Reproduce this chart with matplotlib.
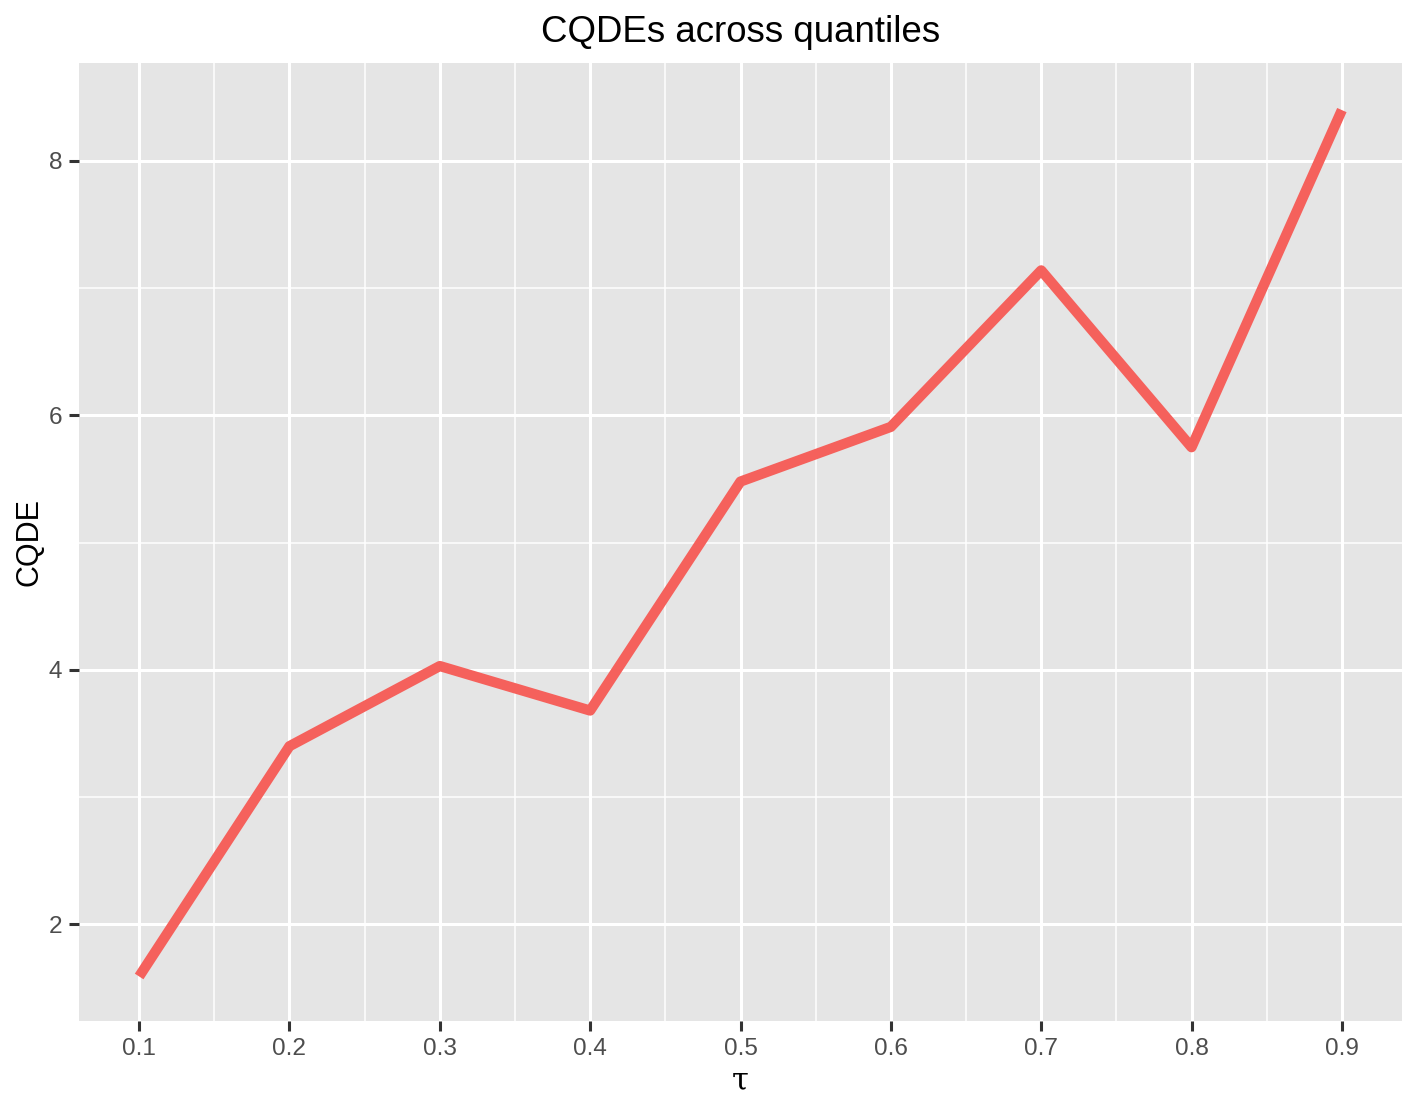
import matplotlib
matplotlib.use("Agg")
import matplotlib.pyplot as plt
from matplotlib.ticker import MultipleLocator

tau = [0.1, 0.2, 0.3, 0.4, 0.5, 0.6, 0.7, 0.8, 0.9]
cqde = [1.59, 3.40, 4.03, 3.68, 5.48, 5.91, 7.14, 5.75, 8.40]
x_ticks = [0.1, 0.2, 0.3, 0.4, 0.5, 0.6, 0.7, 0.8, 0.9]
y_ticks = [2, 4, 6, 8]

plt.rcParams["font.family"] = ["Liberation Sans", "DejaVu Sans"]

fig = plt.figure(figsize=(7.085, 5.51), dpi=200)
ax = fig.add_axes([79 / 1417, 1 - 1021 / 1102, (1402 - 79) / 1417, (1021 - 63) / 1102])
ax.set_facecolor("#E5E5E5")

ax.set_xlim(0.06, 0.94)
ax.set_ylim(1.24, 8.77)
ax.set_xticks(x_ticks)
ax.set_xticklabels([str(t) for t in x_ticks])
ax.set_yticks(y_ticks)
ax.xaxis.set_minor_locator(MultipleLocator(0.05))
ax.yaxis.set_minor_locator(MultipleLocator(1))

ax.grid(which="major", color="white", linewidth=1.1)
ax.grid(which="minor", color="white", linewidth=0.55)
ax.set_axisbelow(True)
for s in ax.spines.values():
    s.set_visible(False)
ax.tick_params(which="major", length=3.5, width=1.1, color="#333333",
               labelcolor="#4D4D4D", labelsize=8.8, pad=2.5)
ax.tick_params(which="minor", length=0)

ax.plot(tau, cqde, color="#F5615C", linewidth=3.7, solid_joinstyle="round",
        solid_capstyle="butt")

ax.set_xlabel("τ", fontsize=11, family=["DejaVu Serif"], labelpad=2)
ax.set_ylabel("CQDE", fontsize=11, labelpad=1.5)
fig.text((79 + 1402) / 2 / 1417, 1 - 32 / 1102, "CQDEs across quantiles",
         ha="center", va="center", fontsize=13.2)

fig.savefig("out.png", dpi=200)
